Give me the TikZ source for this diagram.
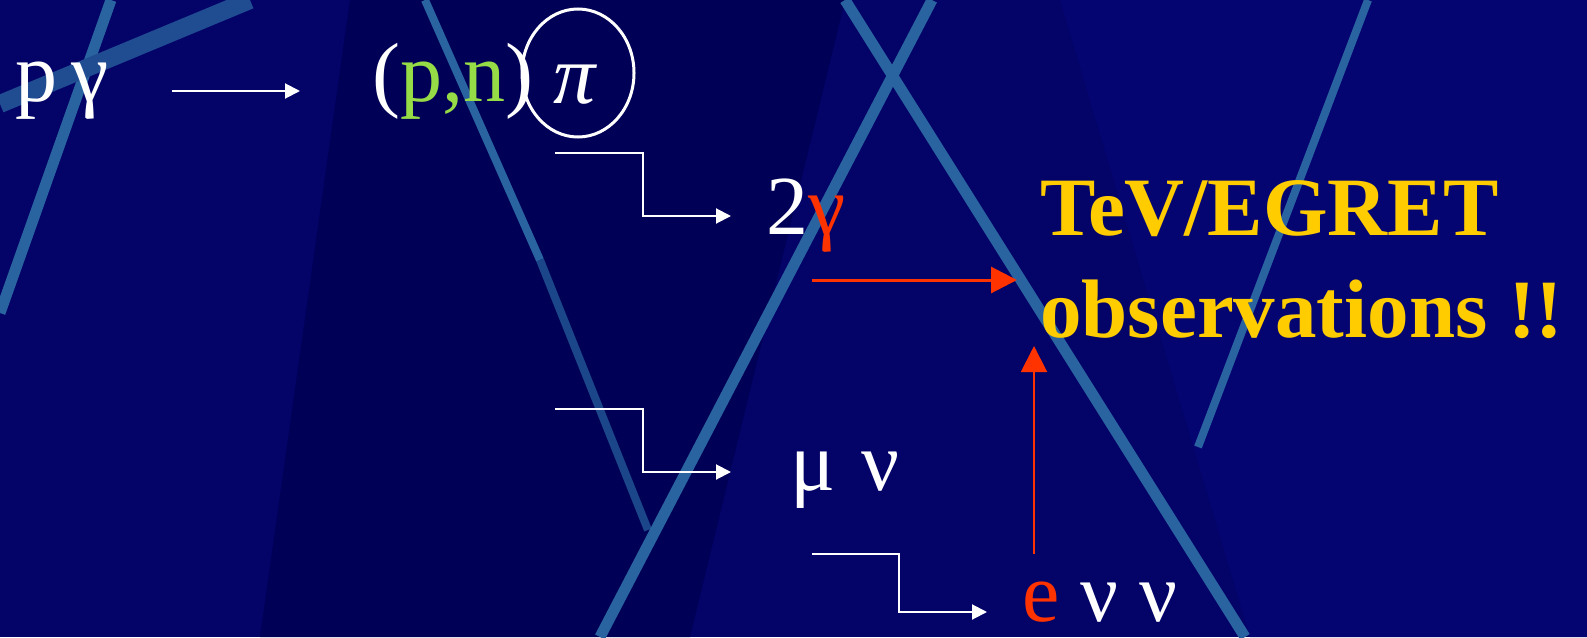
\documentclass[tikz,border=0pt]{standalone}
\usepackage{fontspec}
\setmainfont{Liberation Serif}
\usetikzlibrary{arrows.meta,shapes.geometric}
\definecolor{bgbase}{RGB}{3,3,104}
\definecolor{bgdark}{RGB}{0,0,86}
\definecolor{bglight}{RGB}{5,5,114}
\definecolor{stripe}{RGB}{42,100,160}
\definecolor{stripefaint}{RGB}{28,70,138}
\definecolor{pgreen}{RGB}{150,220,70}
\definecolor{hot}{RGB}{255,51,0}
\definecolor{gold}{RGB}{255,204,0}
\begin{document}
\begin{tikzpicture}[x=1pt,y=-1pt,
  txt/.style={inner sep=0pt, anchor=base west, text=white, font=\fontsize{84}{84}\selectfont},
  hd/.style={inner sep=0pt, anchor=base west, text=gold, font=\fontsize{83}{83}\selectfont\bfseries},
  wline/.style={draw=white, line width=2pt, -{Triangle[length=15pt,width=15pt]}},
  rline/.style={draw=hot, -{Triangle[length=26pt,width=26pt]}},
  band/.style={draw=stripe, line width=11pt},
  fband/.style={draw=stripefaint, line width=8pt},
]
\useasboundingbox (0,0) rectangle (1587,637);
\fill[bgbase] (0,0) rectangle (1587,637);
\begin{scope}
\clip (0,0) rectangle (1587,637);
% subtle background panels
\fill[bgdark] (350,0) -- (845,0) -- (690,637) -- (260,637) -- cycle;
\fill[bglight] (1060,0) -- (1587,0) -- (1587,637) -- (1250,637) -- cycle;
% stripes
\draw[band] (111,0) -- (0,313);
\draw[draw=stripe!75!bgbase, line width=18pt] (250,0) -- (0,104);
\draw[band, line width=8pt] (425,0) -- (540,260);
\draw[fband] (540,260) -- (648,530);
\draw[band] (845,0) -- (1245,637);
\draw[band] (932,0) -- (600,637);
\draw[band, line width=8pt] (1368,0) -- (1198,447);
\end{scope}
% texts
\node[txt] (pg) at (15,101) {p\hspace{14pt}γ};
\node[txt] (pn) at (372,101) {(\textcolor{pgreen}{p,n})};
\node[draw=white, line width=3pt, ellipse, minimum width=112pt, minimum height=128pt, inner sep=0pt] (ring) at (578,73) {};
\node[txt] (pi) at (553,103) {\itshape π};
\node[txt] (twog) at (766,234) {2\textcolor{hot}{γ}};
\node[txt] (munu) at (790,490) {μ\hspace{26pt}ν};
\node[txt] (enn) at (1022,621) {\textcolor{hot}{e} ν ν};
\node[hd] (tev) at (1040,235) {TeV/EGRET};
\node[hd] (obs) at (1040,337) {observations !!};
% connector end points
\coordinate (a0) at (172,91);
\coordinate (a1) at (300,91);
\coordinate (b0) at (555,153);
\coordinate (b1) at (731,216);
\coordinate (c0) at (555,409);
\coordinate (c1) at (731,472);
\coordinate (d0) at (812,554);
\coordinate (d1) at (987,612);
\coordinate (r0) at (812,280);
\coordinate (r1) at (1017,280);
\coordinate (v0) at (1034,554);
\coordinate (v1) at (1034,346);
% connectors
\draw[wline] (a0) -- (a1);
\draw[wline] (b0) -- (643,153) |- (b1);
\draw[wline] (c0) -- (643,409) |- (c1);
\draw[wline] (d0) -- (899,554) |- (d1);
\draw[rline, line width=3pt] (r0) -- (r1);
\draw[rline, line width=2pt] (v0) -- (v1);
\end{tikzpicture}
\end{document}
